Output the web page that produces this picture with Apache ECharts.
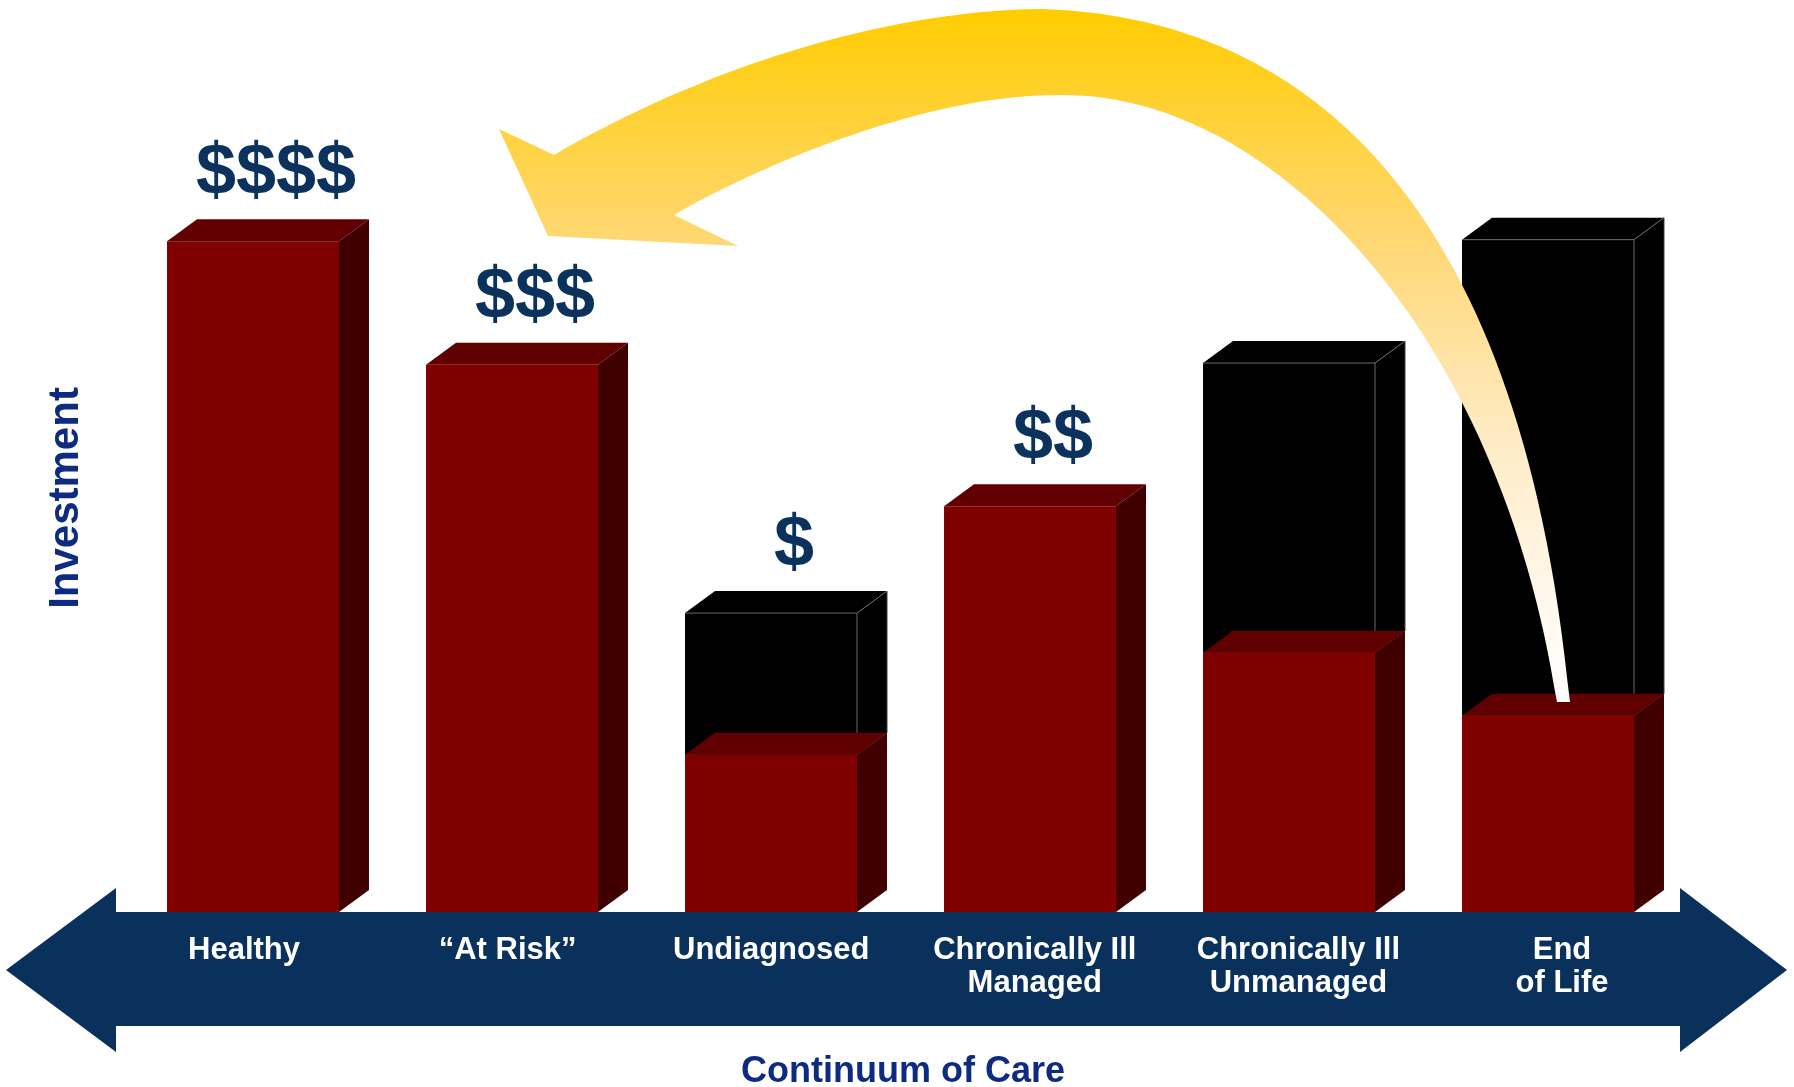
<!DOCTYPE html>
<html>
<head>
<meta charset="utf-8">
<script src="https://cdn.jsdelivr.net/npm/echarts@6/dist/echarts.min.js"></script>
<style>
html,body{margin:0;padding:0;background:#fff;}
#chart{width:1794px;height:1087px;}
</style>
</head>
<body>
<div id="chart"></div>
<script>
// ---- data ----
const categories = ['Healthy', '\u201CAt Risk\u201D', 'Undiagnosed', 'Chronically Ill\nManaged', 'Chronically Ill\nUnmanaged', 'End\nof Life'];
const managedValues = [81.0, 66.1, 19.0, 49.0, 31.3, 23.7];     // dark red portion
const unmanagedValues = [0, 0, 17.1, 0, 35.0, 57.5];             // black portion stacked on top
const dollarLabels = ['$$$$', '$$$', '$', '$$', '', ''];
const xAxisTitle = 'Continuum of Care';
const yAxisTitle = 'Investment';

const FONT = "'Liberation Sans', Arial, Helvetica, sans-serif";
const DX = 30, DY = 22;

const chart = echarts.init(document.getElementById('chart'), null, {renderer: 'canvas'});

function renderItem(params, api) {
  const idx = api.value(0);
  const red = api.value(1);
  const blk = api.value(2);
  const base = api.coord([idx, 0]);
  const redTop = api.coord([idx, red])[1];
  const totTop = api.coord([idx, red + blk])[1];
  const by = base[1];
  const bw = api.size([1, 0])[0] * 0.664;
  const x0 = base[0] - bw / 2, x1 = base[0] + bw / 2;
  const ch = [];
  if (blk > 0) {
    ch.push({type: 'rect', shape: {x: x0, y: totTop, width: bw, height: redTop - totTop}, style: {fill: '#000'}});
    ch.push({type: 'polygon', shape: {points: [[x1, totTop], [x1 + DX, totTop - DY], [x1 + DX, redTop - DY], [x1, redTop]]}, style: {fill: '#000'}});
    ch.push({type: 'polygon', shape: {points: [[x0, totTop], [x0 + DX, totTop - DY], [x1 + DX, totTop - DY], [x1, totTop]]}, style: {fill: '#000'}});
    const g = {stroke: '#6a6a6a', lineWidth: 1};
    ch.push({type: 'line', shape: {x1: x0, y1: totTop, x2: x1, y2: totTop}, style: g});
    ch.push({type: 'line', shape: {x1: x1, y1: totTop, x2: x1, y2: redTop}, style: g});
    ch.push({type: 'line', shape: {x1: x1, y1: totTop, x2: x1 + DX, y2: totTop - DY}, style: g});
    ch.push({type: 'line', shape: {x1: x1 + DX, y1: totTop - DY, x2: x1 + DX, y2: redTop - DY}, style: {stroke: '#3a3a3a', lineWidth: 1}});
  }
  ch.push({type: 'rect', shape: {x: x0, y: redTop, width: bw, height: by - redTop}, style: {fill: '#800000'}});
  ch.push({type: 'polygon', shape: {points: [[x1, redTop], [x1 + DX, redTop - DY], [x1 + DX, by - DY], [x1, by]]}, style: {fill: '#400000'}});
  ch.push({type: 'polygon', shape: {points: [[x0, redTop], [x0 + DX, redTop - DY], [x1 + DX, redTop - DY], [x1, redTop]]}, style: {fill: '#600000'}});
  const lbl = dollarLabels[params.dataIndex];
  if (lbl) {
    ch.push({type: 'text', style: {text: lbl, x: base[0] + 23, y: totTop - 67, align: 'center', verticalAlign: 'middle',
      fill: '#0a325d', font: 'bold 72px ' + FONT}});
  }
  return {type: 'group', children: ch};
}

// decorative curved "shift investment" arrow
const arrowPath = 'M554 155 C700 70 880 11 1040 9 C1290 16 1520 180 1570 702 L1557 702 ' +
  'C1500 330 1270 90 1057 95 C930 95 770 160 674 215 L738 246 L548 236 L499 129 Z';

function renderArrow() {
  return {type: 'path', shape: {pathData: arrowPath},
    style: {fill: {type: 'linear', x: 0, y: 8, x2: 0, y2: 702, global: true, colorStops: [
      {offset: 0, color: '#FFCC00'}, {offset: 0.35, color: '#FFD878'}, {offset: 0.6, color: '#FEEAC0'},
      {offset: 0.85, color: '#FFF8EC'}, {offset: 1, color: '#FFFFFF'}]}}};
}

const hiddenAxis = {axisLine: {show: false}, axisTick: {show: false}, axisLabel: {show: false}, splitLine: {show: false}};

const option = {
  backgroundColor: '#ffffff',
  animation: false,
  grid: [
    {left: 123.5, right: 116.5, top: 84, bottom: 175, containLabel: false, outerBoundsMode: 'none'},
    {left: 112.2, right: 100.2, top: 84, bottom: 175, containLabel: false, outerBoundsMode: 'none'}
  ],
  xAxis: [
    Object.assign({type: 'category', data: categories, gridIndex: 0}, hiddenAxis),
    {
      type: 'category', data: categories, gridIndex: 1, z: 10,
      axisLine: {show: false}, axisTick: {show: false}, splitLine: {show: false},
      axisLabel: {color: '#ffffff', fontFamily: FONT, fontWeight: 'bold', fontSize: 31, lineHeight: 33, margin: 22, interval: 0},
      name: xAxisTitle, nameLocation: 'middle', nameGap: 142,
      nameTextStyle: {color: '#0d2b80', fontFamily: FONT, fontWeight: 'bold', fontSize: 36}
    }
  ],
  yAxis: [
    Object.assign({type: 'value', min: 0, max: 100, gridIndex: 0,
      name: yAxisTitle, nameLocation: 'middle', nameGap: 36, nameRotate: 90,
      nameTextStyle: {color: '#0d2b80', fontFamily: FONT, fontWeight: 'bold', fontSize: 42}}, hiddenAxis),
    Object.assign({type: 'value', min: 0, max: 100, gridIndex: 1}, hiddenAxis)
  ],
  graphic: {elements: [
    {type: 'polygon', z: 1, shape: {points: [[6,970],[116,888],[116,912],[1680,912],[1680,888],[1787,970],[1680,1052],[1680,1026],[116,1026],[116,1052]]},
      style: {fill: '#0a315b'}}
  ]},
  series: [{
    type: 'custom', name: 'Investment', z: 5, xAxisIndex: 0, yAxisIndex: 0,
    renderItem: renderItem,
    encode: {x: 0, y: [1, 2]},
    data: categories.map((c, i) => [i, managedValues[i], unmanagedValues[i]])
  }, {
    type: 'custom', name: 'Shift', z: 50, silent: true, xAxisIndex: 0, yAxisIndex: 0,
    renderItem: renderArrow,
    data: [[0, 0]]
  }]
};
chart.setOption(option);
</script>
</body>
</html>
